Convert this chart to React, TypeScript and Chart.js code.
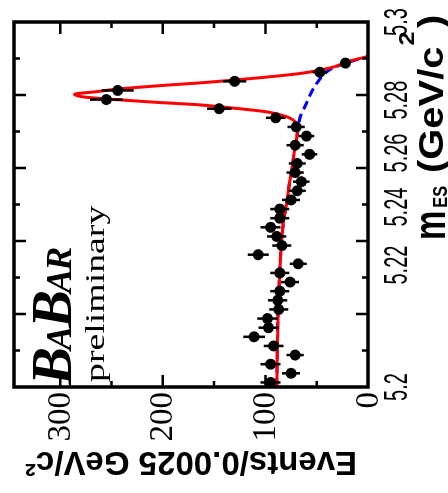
import React, { useEffect, useRef } from 'react';
import { Chart, registerables } from 'chart.js';

Chart.register(...registerables);

// m_ES bin centres (GeV/c^2), 0.0025 GeV/c^2 bins
const massBins = [
  5.20125, 5.20375, 5.20625, 5.20875, 5.21125, 5.21375, 5.21625, 5.21875,
  5.22125, 5.22375, 5.22625, 5.22875, 5.23125, 5.23375, 5.23625, 5.23875,
  5.24125, 5.24375, 5.24625, 5.24875, 5.25125, 5.25375, 5.25625, 5.25875,
  5.26125, 5.26375, 5.26625, 5.26875, 5.27125, 5.27375, 5.27625, 5.27875,
  5.28125, 5.28375, 5.28625, 5.28875,
];
// events per bin
const events = [
  95, 75, 95, 71, 92, 111, 97, 98,
  87, 88, 86, 76, 86, 68, 107, 84,
  89, 95, 86, 86, 75, 69, 65, 71,
  69, 57, 71, 60, 70, 90, 145, 255,
  244, 130, 47, 22,
];
// statistical errors per bin
const errors = [
  9.7, 8.7, 9.7, 8.4, 9.6, 10.5, 9.8, 9.9,
  9.3, 9.4, 9.3, 8.7, 9.3, 8.2, 10.3, 9.2,
  9.4, 9.7, 9.3, 9.3, 8.7, 8.3, 8.1, 8.4,
  8.3, 7.5, 8.4, 7.7, 8.4, 9.5, 12, 16,
  15.6, 11.4, 6.9, 4.7,
];

// total fit (red solid)
const fitMass = [
  5.2, 5.21, 5.22, 5.23, 5.24, 5.245, 5.25, 5.255, 5.26, 5.265, 5.27,
  5.2722, 5.274, 5.2754, 5.2766, 5.2773, 5.2781, 5.2789, 5.2795, 5.2802,
  5.2809, 5.2816, 5.2827, 5.2834, 5.2841, 5.2849, 5.2859, 5.2868, 5.2878,
  5.2889, 5.2898, 5.2905,
];
const fitTotal = [
  89, 88.4, 87.7, 86.3, 84.3, 82.5, 79.5, 77, 74, 71.5, 69,
  70, 79, 99, 138, 164, 212, 254, 278, 286,
  265, 245, 196, 160, 130, 99, 66, 47, 32,
  22, 11, 0,
];

// background fit (blue dashed)
const bkgMass = [
  5.2, 5.21, 5.22, 5.23, 5.24, 5.245, 5.25, 5.255, 5.26, 5.265, 5.27,
  5.274, 5.2777, 5.2809, 5.2832, 5.2855, 5.287, 5.2882, 5.2891, 5.2902, 5.2905,
];
const bkgValues = [
  89, 88.4, 87.7, 86.3, 84.3, 82.5, 79.5, 77, 74, 71.5, 68.5,
  66, 60, 55, 50, 43.5, 37, 27, 17.5, 4.5, 0,
];

// tick labels
const eventTickValues = [0, 100, 200, 300];
const eventTickLabels = ['0', '100', '200', '300'];
const mesTickLabels = ['5.2', '5.22', '5.24', '5.26', '5.28', '5.3'];
// where the reference prints those m_ES labels along the axis
const mesTickLabelAt = [5.2, 5.2334, 5.2493, 5.2641, 5.2786, 5.3];

const W = 493; // unrotated chart width
const H = 448; // unrotated chart height

const SANS = '"Liberation Sans", Arial, Helvetica, sans-serif';
const SERIF = '"Liberation Serif", "Times New Roman", serif';

export default function App() {
  const ref = useRef<HTMLCanvasElement>(null);

  useEffect(() => {
    const canvas = ref.current;
    if (!canvas) return;

    const framePlugin = {
      id: 'frameAndText',
      afterDraw(chart: any) {
        const { ctx, chartArea: a, scales } = chart;
        const xs = scales.x;
        const ys = scales.y;
        ctx.save();
        ctx.strokeStyle = '#000';
        ctx.fillStyle = '#000';
        ctx.lineCap = 'butt';

        // inner tick marks on all four sides
        ctx.lineWidth = 2.5;
        ctx.beginPath();
        xs.ticks.forEach((t: any) => {
          const v = t.value;
          if (v <= xs.min + 1e-9 || v >= xs.max - 1e-9) return;
          const major = Math.round(v * 100) % 2 === 0;
          const len = major ? 12 : 6;
          const px = xs.getPixelForValue(v);
          ctx.moveTo(px, a.bottom);
          ctx.lineTo(px, a.bottom - len);
          ctx.moveTo(px, a.top);
          ctx.lineTo(px, a.top + len);
        });
        ys.ticks.forEach((t: any) => {
          const v = t.value;
          if (v <= ys.min + 1e-9 || v >= ys.max - 1e-9) return;
          const major = Math.round(v) % 100 === 0;
          const len = major ? 12 : 6;
          const py = ys.getPixelForValue(v);
          ctx.moveTo(a.left, py);
          ctx.lineTo(a.left + len, py);
          ctx.moveTo(a.right, py);
          ctx.lineTo(a.right - len, py);
        });
        ctx.stroke();

        // frame
        ctx.lineWidth = 3.5;
        ctx.strokeRect(a.left, a.top, a.right - a.left, a.bottom - a.top);

        // event tick labels (serif)
        ctx.font = `33px ${SERIF}`;
        ctx.textAlign = 'right';
        ctx.textBaseline = 'middle';
        eventTickValues.forEach((v, i) => {
          const py = ys.getPixelForValue(v);
          ctx.fillText(eventTickLabels[i], a.left - 5, py + 1);
        });

        // m_ES tick labels (narrow sans)
        ctx.font = `20px ${SANS}`;
        ctx.textAlign = 'center';
        ctx.textBaseline = 'alphabetic';
        mesTickLabels.forEach((txt, i) => {
          const px = xs.getPixelForValue(mesTickLabelAt[i]);
          ctx.save();
          ctx.translate(px, 407);
          ctx.scale(1, 1.65);
          ctx.fillText(txt, 0, 0);
          ctx.restore();
        });

        // m_ES axis title
        ctx.textAlign = 'left';
        let tx = 253;
        ctx.save();
        ctx.translate(tx, 445);
        ctx.scale(0.75, 1);
        ctx.font = `bold 44px ${SANS}`;
        ctx.fillText('m', 0, 0);
        tx += ctx.measureText('m').width * 0.75 + 3;
        ctx.restore();
        ctx.save();
        ctx.translate(tx, 447);
        ctx.scale(0.78, 1);
        ctx.font = `bold 21px ${SANS}`;
        ctx.fillText('ES', 0, 0);
        ctx.restore();
        tx = 320;
        ctx.save();
        ctx.translate(tx, 443);
        ctx.scale(1.14, 1);
        ctx.font = `bold 35px ${SANS}`;
        ctx.fillText('(GeV/c', 0, 0);
        let w = ctx.measureText('(GeV/c').width;
        ctx.font = `bold 22px ${SANS}`;
        ctx.fillText('2', w + 1, -29);
        w += ctx.measureText('2').width + 4;
        ctx.font = `bold 35px ${SANS}`;
        ctx.fillText(')', w, 0);
        ctx.restore();

        // BABAR logo
        const parts: [string, number][] = [
          ['B', 57], ['A', 36], ['B', 57], ['A', 36], ['R', 36],
        ];
        let bx = 108;
        parts.forEach(([ch, size]) => {
          ctx.font = `italic bold ${size}px ${SERIF}`;
          ctx.fillText(ch, bx, 71);
          bx += ctx.measureText(ch).width * 0.92;
        });

        // preliminary
        ctx.save();
        ctx.translate(111, 104);
        ctx.scale(1.35, 1);
        ctx.font = `28px ${SERIF}`;
        ctx.fillText('preliminary', 0, 0);
        ctx.restore();

        ctx.restore();
      },
    };

    const pointData = massBins.map((m, i) => ({ x: m, y: events[i] }));
    const errData: { x: number; y: number | null }[] = [];
    massBins.forEach((m, i) => {
      errData.push({ x: m, y: events[i] - errors[i] });
      errData.push({ x: m, y: events[i] + errors[i] });
      errData.push({ x: m, y: null });
    });
    const fitData = fitMass.map((m, i) => ({ x: m, y: fitTotal[i] }));
    const bkgData = bkgMass.map((m, i) => ({ x: m, y: bkgValues[i] }));

    const chart = new Chart(canvas, {
      type: 'line',
      data: {
        datasets: [
          {
            label: 'data',
            data: pointData,
            showLine: false,
            pointRadius: 5.5,
            pointBackgroundColor: '#000',
            pointBorderColor: '#000',
            pointBorderWidth: 0,
            order: 0,
          },
          {
            label: 'errors',
            data: errData as any,
            showLine: true,
            spanGaps: false,
            pointRadius: 0,
            borderColor: '#000',
            borderWidth: 2.5,
            order: 1,
          },
          {
            label: 'fit',
            data: fitData,
            showLine: true,
            pointRadius: 0,
            borderColor: '#ff0000',
            borderWidth: 3,
            cubicInterpolationMode: 'monotone',
            order: 2,
          },
          {
            label: 'background',
            data: bkgData,
            showLine: true,
            pointRadius: 0,
            borderColor: '#0000ff',
            borderWidth: 3,
            borderDash: [9, 5],
            cubicInterpolationMode: 'monotone',
            order: 3,
          },
        ],
      },
      options: {
        animation: false,
        responsive: false,
        devicePixelRatio: 1,
        events: [],
        layout: { padding: { left: 0, right: 22, top: 14, bottom: 0 } },
        plugins: {
          legend: { display: false },
          tooltip: { enabled: false },
        },
        scales: {
          x: {
            type: 'linear',
            position: 'bottom',
            min: 5.2,
            max: 5.3,
            ticks: { display: false, stepSize: 0.01 },
            grid: { display: false, drawTicks: false },
            border: { display: false },
            afterFit: (s: any) => {
              s.height = 80;
            },
          },
          y: {
            type: 'linear',
            position: 'left',
            min: 0,
            max: 345,
            ticks: {
              display: false,
              stepSize: 50,
              includeBounds: false,
            },
            grid: { display: false, drawTicks: false },
            border: { display: false },
            title: {
              display: true,
              text: 'Events/0.0025 GeV/c²',
              color: '#000',
              font: { family: SANS, size: 33, weight: 'bold' },
              padding: { top: 12, bottom: 0 },
            },
            afterFit: (s: any) => {
              s.width = 106;
            },
          },
        },
      } as any,
      plugins: [framePlugin],
    });

    return () => {
      chart.destroy();
    };
  }, []);

  return (
    <div
      style={{
        position: 'fixed',
        left: 0,
        top: 0,
        width: 448,
        height: 493,
        overflow: 'hidden',
        background: '#fff',
      }}
    >
      <canvas
        ref={ref}
        width={W}
        height={H}
        style={{
          position: 'absolute',
          left: 0,
          top: 0,
          width: W,
          height: H,
          transformOrigin: '0 0',
          transform: `translate(0px, ${W}px) rotate(-90deg)`,
        }}
      />
    </div>
  );
}
